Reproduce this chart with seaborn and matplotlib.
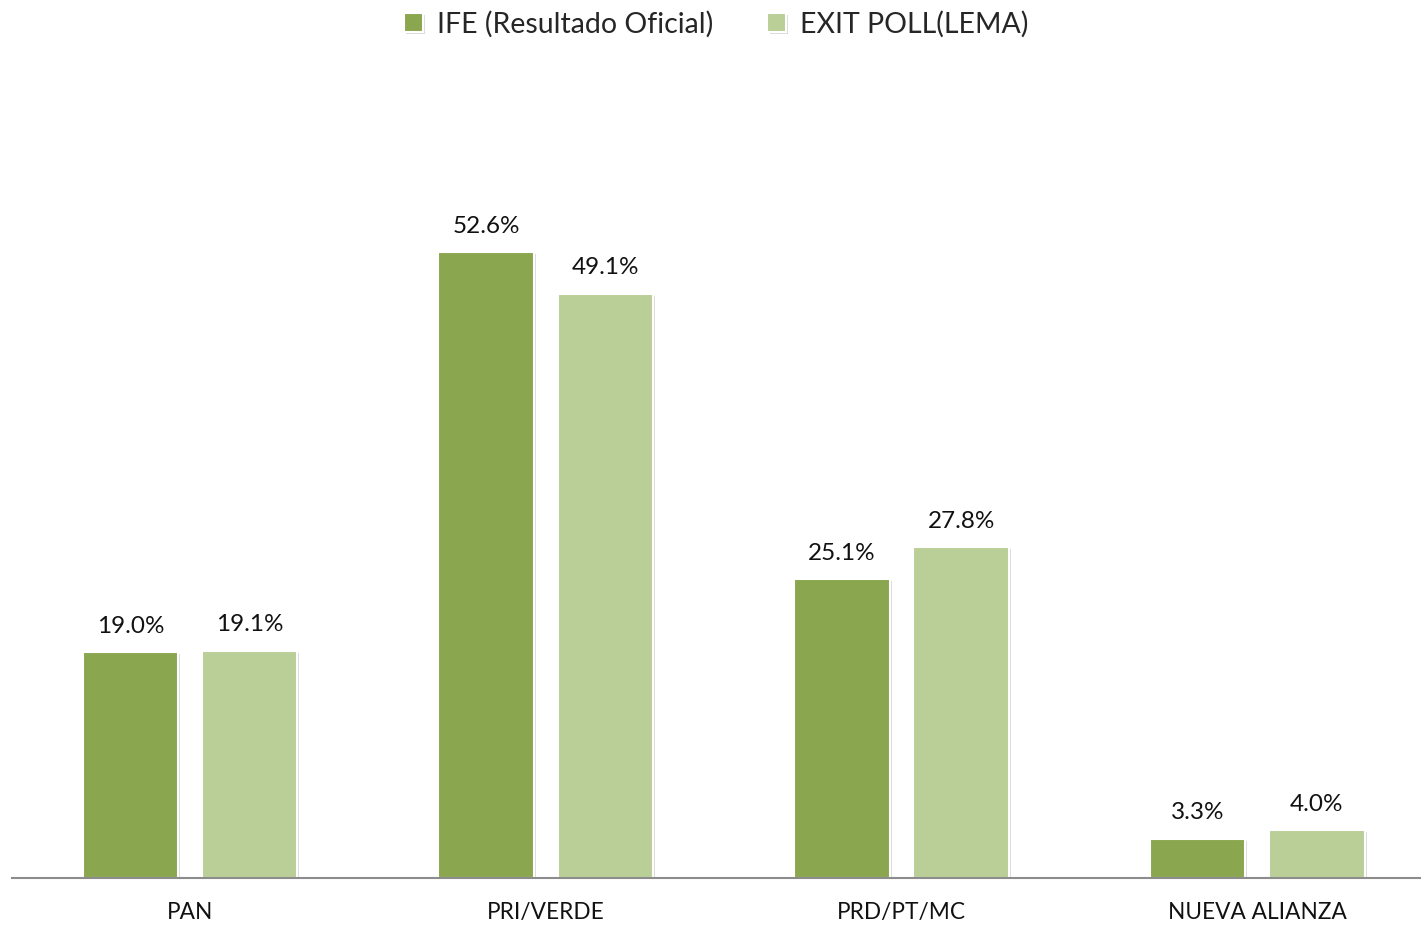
import pandas as pd
import seaborn as sns
import matplotlib.pyplot as plt
import matplotlib.patheffects as pe

partidos = ['PAN', 'PRI/VERDE', 'PRD/PT/MC', 'NUEVA ALIANZA']
ife = [19.0, 52.6, 25.1, 3.3]
exit_poll = [19.1, 49.1, 27.8, 4.0]
series = ['IFE (Resultado Oficial)', 'EXIT POLL(LEMA)']
colores = ['#8AA64E', '#BACE97']

df = pd.DataFrame({
    'partido': partidos * 2,
    'valor': ife + exit_poll,
    'serie': [series[0]] * 4 + [series[1]] * 4,
})

sns.set_style('white')
plt.rcParams['font.family'] = ['Lato', 'DejaVu Sans']

fig = plt.figure(figsize=(14.21, 9.25), dpi=100)
ax = fig.add_axes([12 / 1421, 47 / 925, 1409 / 1421, 833 / 925])

sns.barplot(data=df, x='partido', y='valor', hue='serie', palette=colores,
            saturation=1, width=0.67, gap=0.2, edgecolor='white', linewidth=1.5, ax=ax)

for p in ax.patches:
    p.set_path_effects([pe.SimplePatchShadow(offset=(1.5, -1.5), shadow_rgbFace='#bbbbbb', alpha=0.5),
                        pe.Normal()])

for c in ax.containers:
    ax.bar_label(c, labels=['{:.1f}%'.format(v) for v in c.datavalues],
                 padding=11, fontsize=17.5, color='#111111')

ax.set_xlim(-0.5, 3.46)
ax.set_ylim(0, 70)
ax.set_xlabel('')
ax.set_ylabel('')
ax.set_yticks([])
ax.tick_params(axis='x', length=0, pad=17, labelsize=16.3, labelcolor='#111111')
for s in ['left', 'right', 'top']:
    ax.spines[s].set_visible(False)
ax.spines['bottom'].set_color('#8c8c8c')
ax.spines['bottom'].set_linewidth(1.5)

ax.legend(loc='upper center', bbox_to_anchor=(0.5, 1.072), ncol=2, frameon=False,
          fontsize=20.5, handlelength=0.65, handleheight=0.65, handletextpad=0.5,
          columnspacing=1.9)

fig.savefig('out.png', dpi=100)
